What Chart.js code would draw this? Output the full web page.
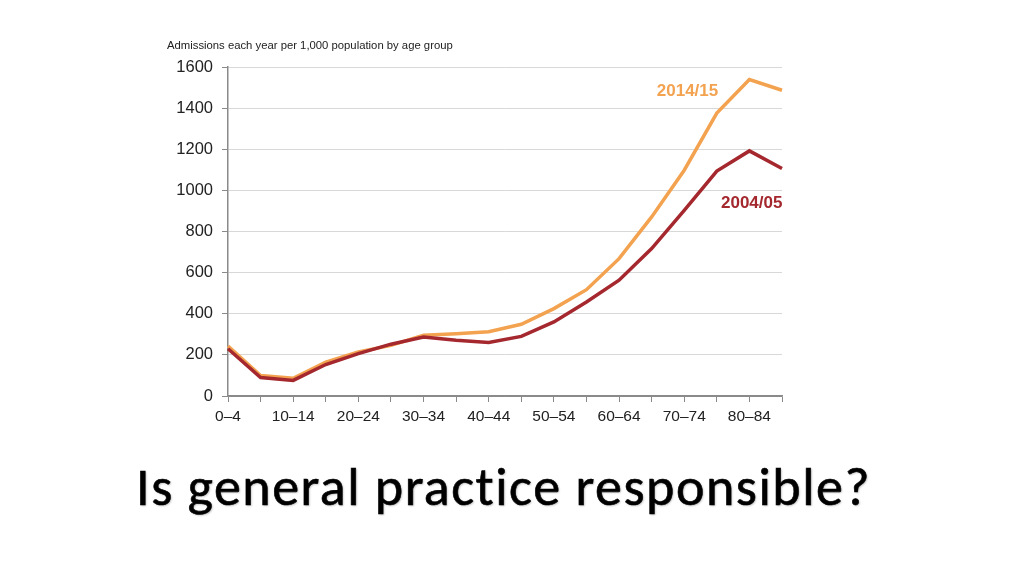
<!DOCTYPE html>
<html>
<head>
<meta charset="utf-8">
<script src="https://cdn.jsdelivr.net/npm/chart.js@4.4.1/dist/chart.umd.min.js"></script>
<style>
  html, body { margin: 0; padding: 0; background: #fff; width: 1031px; height: 579px; overflow: hidden; }
  #wrap { position: absolute; left: 0; top: 0; width: 1031px; height: 579px; }
  #sub { position: absolute; left: 167px; top: 39px; font: 11.3px "Liberation Sans", Arial, sans-serif; color: #222; white-space: nowrap; }
  #title { position: absolute; left: 0; width: 1007px; top: 460px; line-height: 54px; text-align: center; font-family: Carlito, Lato, "Noto Sans", sans-serif; font-size: 54px; letter-spacing: 1.5px; font-variant-ligatures: none; color: #000; white-space: nowrap; -webkit-text-stroke: 0.6px #000; text-shadow: 1px 1px 2px rgba(0,0,0,0.25); }
</style>
</head>
<body>
<div id="wrap"><canvas id="c" width="1031" height="579"></canvas></div>
<div id="sub">Admissions each year per 1,000 population by age group</div>
<div id="title">Is general practice responsible?</div>
<script>
const categories = ["0–4","5–9","10–14","15–19","20–24","25–29","30–34","35–39","40–44","45–49","50–54","55–59","60–64","65–69","70–74","75–79","80–84","85+"];
const series2004 = [230, 90, 76, 153, 206, 252, 287, 271, 260, 290, 360, 457, 563, 717, 903, 1094, 1192, 1106];
const series2014 = [243, 100, 86, 165, 214, 246, 295, 303, 313, 349, 425, 517, 668, 871, 1098, 1376, 1539, 1487];
const yTicks = [0, 200, 400, 600, 800, 1000, 1200, 1400, 1600];
const seriesNames = ["2014/15", "2004/05"];
const colors = { y2014: "#F3A24F", y2004: "#A4282E" };
const labelAnchors = [
  { text: seriesNames[0], color: colors.y2014, x: 14.1, y: 1482 },
  { text: seriesNames[1], color: colors.y2004, x: 16.07, y: 937 }
];

const labelPlugin = {
  id: 'seriesLabels',
  afterDatasetsDraw(chart) {
    const ctx = chart.ctx;
    const xs = chart.scales.x, ys = chart.scales.y;
    ctx.save();
    ctx.font = 'bold 17px "Liberation Sans", Arial, sans-serif';
    ctx.textAlign = 'center';
    ctx.textBaseline = 'middle';
    labelAnchors.forEach(l => {
      ctx.fillStyle = l.color;
      ctx.fillText(l.text, xs.getPixelForValue(l.x), ys.getPixelForValue(l.y));
    });
    ctx.restore();
  }
};

new Chart(document.getElementById('c'), {
  type: 'line',
  data: {
    labels: categories,
    datasets: [
      { label: seriesNames[1], data: series2004, borderColor: colors.y2004, borderWidth: 3.5, pointRadius: 0, tension: 0, fill: false },
      { label: seriesNames[0], data: series2014, borderColor: colors.y2014, borderWidth: 3.5, pointRadius: 0, tension: 0, fill: false }
    ]
  },
  options: {
    responsive: false,
    animation: false,
    devicePixelRatio: 1,
    layout: { padding: { left: 160, right: 249, top: 67, bottom: 0 } },
    plugins: { legend: { display: false }, tooltip: { enabled: false } },
    scales: {
      x: {
        type: 'category',
        offset: false,
        afterFit(scale) { scale.height = 183; },
        grid: { drawOnChartArea: false, drawTicks: true, tickLength: 6, color: '#8a8a8a', lineWidth: 1 },
        border: { color: '#8a8a8a', width: 1.5 },
        ticks: {
          autoSkip: false, maxRotation: 0, padding: 5,
          color: '#222',
          font: { family: '"Liberation Sans", Arial, sans-serif', size: 15.5 },
          callback(v, i) { return i % 2 === 0 ? categories[i] : ''; }
        }
      },
      y: {
        min: 0, max: 1600,
        afterFit(scale) { scale.width = 68; },
        afterBuildTicks(scale) { scale.ticks = yTicks.map(v => ({ value: v })); },
        grid: { color: ctx => ctx.tick && ctx.tick.value === 0 ? '#8a8a8a' : '#d8d8d8', tickColor: '#8a8a8a', tickLength: 6, lineWidth: 1 },
        border: { color: '#8a8a8a', width: 1.5 },
        ticks: {
          padding: 9, color: '#222',
          font: { family: '"Liberation Sans", Arial, sans-serif', size: 16.5 },
          callback(v) { return String(v); }
        }
      }
    }
  },
  plugins: [labelPlugin]
});
</script>
</body>
</html>
